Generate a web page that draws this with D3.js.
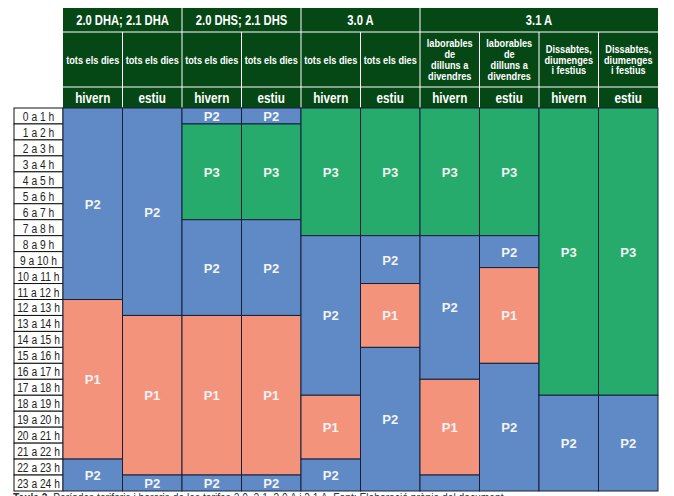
<!DOCTYPE html>
<html>
<head>
<meta charset="utf-8">
<script src="https://cdn.jsdelivr.net/npm/d3@7"></script>
<style>
  body { margin: 0; background: #fff; }
  svg { display: block; }
</style>
</head>
<body>
<div id="chart"></div>
<script>
const tariffGroups = ["2.0 DHA; 2.1 DHA", "2.0 DHS; 2.1 DHS", "3.0 A", "3.1 A"];
const groupSpans = [2, 2, 2, 4];
const dayTypes = [
    ["tots els dies"], ["tots els dies"], ["tots els dies"], ["tots els dies"],
    ["tots els dies"], ["tots els dies"],
    ["laborables", "de", "dilluns a", "divendres"], ["laborables", "de", "dilluns a", "divendres"],
    ["Dissabtes,", "diumenges", "i festius"], ["Dissabtes,", "diumenges", "i festius"]
];
const seasons = ["hivern", "estiu", "hivern", "estiu", "hivern", "estiu", "hivern", "estiu", "hivern", "estiu"];
const hourLabels = ["0 a 1 h", "1 a 2 h", "2 a 3 h", "3 a 4 h", "4 a 5 h", "5 a 6 h", "6 a 7 h", "7 a 8 h",
    "8 a 9 h", "9 a 10 h", "10 a 11 h", "11 a 12 h", "12 a 13 h", "13 a 14 h", "14 a 15 h", "15 a 16 h",
    "16 a 17 h", "17 a 18 h", "18 a 19 h", "19 a 20 h", "20 a 21 h", "21 a 22 h", "22 a 23 h", "23 a 24 h"];

// [from hour, to hour, period, show label]
const col1 = [[0, 12, "P2", true], [12, 22, "P1", true], [22, 24, "P2", true]];
const col2 = [[0, 13, "P2", true], [13, 23, "P1", true], [23, 24, "P2", true]];
const col3 = [[0, 1, "P2", true], [1, 7, "P3", true], [7, 13, "P2", true], [13, 23, "P1", true], [23, 24, "P2", true]];
const col4 = [[0, 1, "P2", true], [1, 7, "P3", true], [7, 13, "P2", true], [13, 23, "P1", true], [23, 24, "P2", true]];
const col5 = [[0, 8, "P3", true], [8, 18, "P2", true], [18, 22, "P1", true], [22, 24, "P2", true]];
const col6 = [[0, 8, "P3", true], [8, 11, "P2", true], [11, 15, "P1", true], [15, 24, "P2", true]];
const col7 = [[0, 8, "P3", true], [8, 17, "P2", true], [17, 23, "P1", true], [23, 24, "P2", false]];
const col8 = [[0, 8, "P3", true], [8, 10, "P2", true], [10, 16, "P1", true], [16, 24, "P2", true]];
const col9 = [[0, 18, "P3", true], [18, 24, "P2", true]];
const col10 = [[0, 18, "P3", true], [18, 24, "P2", true]];
const periodColumns = [col1, col2, col3, col4, col5, col6, col7, col8, col9, col10];

const periodColors = { P1: "#f4937c", P2: "#5f8ac6", P3: "#26ab6c" };
const headerGreen = "#064716";
const font = "'Liberation Sans', Arial, sans-serif";

const width = 674, height = 496;
const gridLeft = 63, gridRight = 658, gridTop = 108, gridBottom = 491;
const labelLeft = 14;
const headRows = [8, 32, 87, 108];

const svg = d3.select('#chart').append('svg')
    .attr('width', width)
    .attr('height', height);

const x = d3.scaleBand()
    .domain(d3.range(seasons.length))
    .range([gridLeft, gridRight]);

const y = d3.scaleLinear()
    .domain([0, 24])
    .range([gridTop, gridBottom]);

// condensed text: no narrow font installed, so squeeze horizontally
function narrowText(parent, tx, ty, sx, size, bold, fill) {
    return parent.append('g')
        .attr('transform', `translate(${tx},${ty}) scale(${sx},1)`)
        .append('text')
        .attr('text-anchor', 'middle')
        .attr('fill', fill)
        .attr('font-family', font)
        .attr('font-weight', bold ? 'bold' : 'normal')
        .attr('font-size', size);
}

// header background
svg.append('rect')
    .attr('x', gridLeft)
    .attr('y', headRows[0])
    .attr('width', gridRight - gridLeft)
    .attr('height', headRows[3] - headRows[0])
    .attr('fill', headerGreen);

// group titles
let startCol = 0;
tariffGroups.forEach((g, i) => {
    const x0 = x(startCol);
    const x1 = x(startCol + groupSpans[i] - 1) + x.bandwidth();
    narrowText(svg, (x0 + x1) / 2, (headRows[0] + headRows[1]) / 2 + 5, 0.8, 14, true, '#fff')
        .text(g);
    if (i > 0) {
        svg.append('line')
            .attr('x1', x0).attr('x2', x0)
            .attr('y1', headRows[0]).attr('y2', headRows[1])
            .attr('stroke', '#fff').attr('stroke-width', 1);
    }
    startCol += groupSpans[i];
});

// horizontal header separators
[headRows[1], headRows[2]].forEach(yy => {
    svg.append('line')
        .attr('x1', gridLeft).attr('x2', gridRight)
        .attr('y1', yy).attr('y2', yy)
        .attr('stroke', '#fff').attr('stroke-width', 1);
});

// column separators in lower header rows
d3.range(1, seasons.length).forEach(i => {
    svg.append('line')
        .attr('x1', x(i)).attr('x2', x(i))
        .attr('y1', headRows[1]).attr('y2', headRows[3])
        .attr('stroke', '#fff').attr('stroke-width', 1);
});

// day type texts
dayTypes.forEach((lines, i) => {
    const cx = x(i) + x.bandwidth() / 2;
    const lh = 11;
    const mid = (headRows[1] + headRows[2]) / 2;
    const t = narrowText(svg, cx, mid, 0.8, 11.5, true, '#fff');
    lines.forEach((l, j) => {
        t.append('tspan')
            .attr('x', 0)
            .attr('y', (j - (lines.length - 1) / 2) * lh + 4)
            .text(l);
    });
});

// season texts
seasons.forEach((s, i) => {
    narrowText(svg, x(i) + x.bandwidth() / 2, (headRows[2] + headRows[3]) / 2 + 5, 0.78, 15, true, '#fff')
        .text(s);
});

// hour labels
svg.selectAll('rect.hour').data(hourLabels)
    .join('rect')
    .attr('class', 'hour')
    .attr('x', labelLeft)
    .attr('y', (d, i) => y(i))
    .attr('width', gridLeft - labelLeft)
    .attr('height', y(1) - y(0))
    .attr('fill', '#fff')
    .attr('stroke', '#111')
    .attr('stroke-width', 1);

hourLabels.forEach((h, i) => {
    narrowText(svg, (labelLeft + gridLeft) / 2, (y(i) + y(i + 1)) / 2 + 5, 0.76, 13.5, false, '#222')
        .text(h);
});

// period blocks
const cols = svg.selectAll('g.col').data(periodColumns)
    .join('g')
    .attr('class', 'col');

const segs = cols.selectAll('g.seg')
    .data((d, i) => d.map(s => ({ from: s[0], to: s[1], period: s[2], show: s[3], col: i })))
    .join('g')
    .attr('class', 'seg');

segs.append('rect')
    .attr('x', d => x(d.col))
    .attr('y', d => y(d.from))
    .attr('width', x.bandwidth())
    .attr('height', d => y(d.to) - y(d.from))
    .attr('fill', d => periodColors[d.period])
    .attr('stroke', '#14203a')
    .attr('stroke-width', 1);

segs.filter(d => d.show).append('text')
    .attr('x', d => x(d.col) + x.bandwidth() / 2)
    .attr('y', d => (y(d.from) + y(d.to)) / 2 + 5)
    .attr('text-anchor', 'middle')
    .attr('fill', '#f4f4f4')
    .attr('font-family', font)
    .attr('font-weight', 'bold')
    .attr('font-size', 13)
    .text(d => d.period);

// caption (cut off at the bottom of the picture)
const cap = svg.append('g')
    .attr('transform', 'translate(13,502) scale(0.82,1)')
    .append('text')
    .attr('fill', '#333')
    .attr('font-family', font)
    .attr('font-size', 12.5);
cap.append('tspan').attr('font-weight', 'bold').text('Taula 3. ');
cap.append('tspan').text('Períodes tarifaris i horaris de les tarifes 2.0, 2.1, 3.0 A i 3.1 A. Font: Elaboració pròpia del document');
</script>
</body>
</html>
